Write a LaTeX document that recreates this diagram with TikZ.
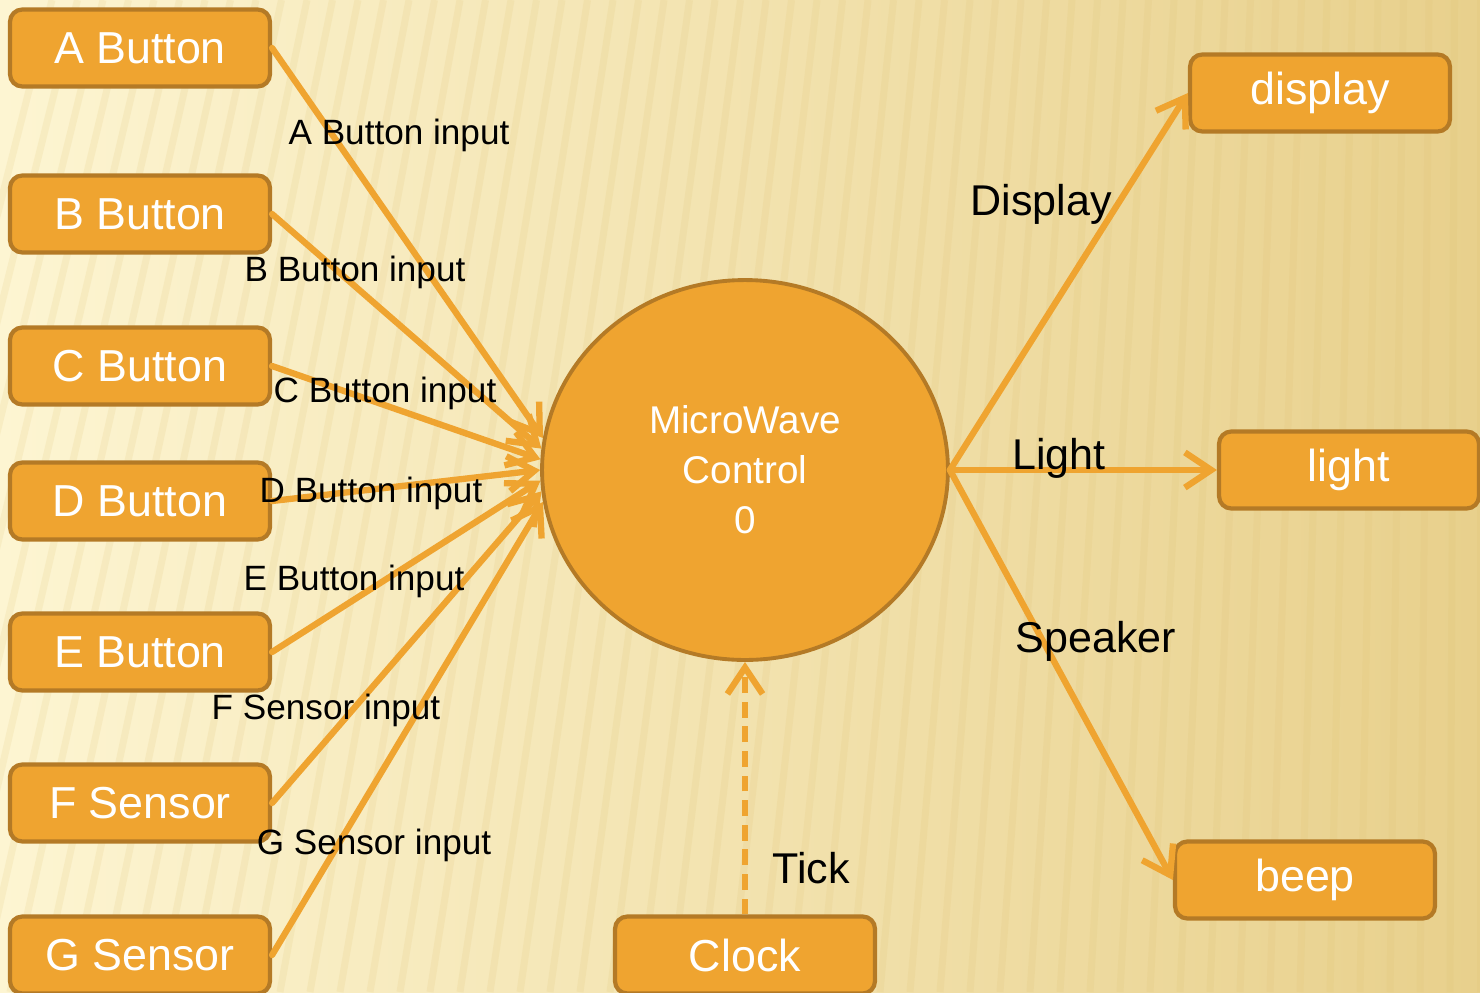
\documentclass[tikz,border=0pt]{standalone}
\usepackage{fontspec}
\setmainfont{Liberation Sans}
\usetikzlibrary{shapes.geometric,arrows.meta}

\definecolor{boxfill}{RGB}{239,164,48}
\definecolor{boxline}{RGB}{180,122,38}
\definecolor{bgA}{RGB}{253,245,210}
\definecolor{bgB}{RGB}{232,208,140}
\definecolor{stripecol}{RGB}{222,192,112}

\begin{document}
\begin{tikzpicture}[x=0.02cm,y=-0.02cm]
                \tikzset{BoxStyle/.style= {draw=boxline, line width=2.4pt, fill=boxfill, rounded corners=7pt,
                    minimum width=5.2cm, minimum height=1.54cm, inner sep=0pt, text=white,
                    font=\fontsize{25.5}{30}\selectfont}}
                \tikzset{CtrlStyle/.style= {ellipse, draw=boxline, line width=2.2pt, fill=boxfill,
                    minimum width=8.12cm, minimum height=7.6cm, inner sep=0pt, text=white, align=center,
                    font=\fontsize{22}{28.5}\selectfont}}
                \tikzset{EdgeStyle/.style= {draw=boxfill, line width=3.6pt, line cap=round,
                    -{Straight Barb[length=15pt,width=20pt]}}}
                \tikzset{LabelStyle/.style= {text=black, inner sep=0pt, font=\fontsize{20}{24}\selectfont}}
                \tikzset{BigLabelStyle/.style= {text=black, inner sep=0pt, font=\fontsize{24.5}{28}\selectfont}}
                % background
                \useasboundingbox (0,0) rectangle (1480,992);
                \shade[left color=bgA, right color=bgB] (0,0) rectangle (1480,992);
                \begin{scope}
                \clip (0,0) rectangle (1480,992);
                \foreach \sx in {-200,-170,...,1500}
                    \draw[stripecol, line width=4pt, opacity=0.15] (\sx,992) -- ({\sx+0.15*(1480-\sx)},0);
                \end{scope}
                % inputs
                \node[BoxStyle] (abtn) at (140,48) {A Button};
                \node[BoxStyle] (bbtn) at (140,214) {B Button};
                \node[BoxStyle] (cbtn) at (140,366) {C Button};
                \node[BoxStyle] (dbtn) at (140,501) {D Button};
                \node[BoxStyle] (ebtn) at (140,652) {E Button};
                \node[BoxStyle] (fsen) at (140,803) {F Sensor};
                \node[BoxStyle] (gsen) at (140,955) {G Sensor};
                % control
                \node[CtrlStyle] (ctrl) at (745,470) {MicroWave\\Control\\0};
                % outputs
                \node[BoxStyle] (disp) at (1320,93) {display};
                \node[BoxStyle] (lght) at (1349,470) {light};
                \node[BoxStyle] (beep) at (1305,880) {beep};
                \node[BoxStyle] (clck) at (745,955) {Clock};
                % edges
                \draw[EdgeStyle] (abtn.east) -- (ctrl.171);
                \draw[EdgeStyle] (bbtn.east) -- (ctrl.174);
                \draw[EdgeStyle] (cbtn.east) -- (ctrl.177);
                \draw[EdgeStyle] (dbtn.east) -- (ctrl.180);
                \draw[EdgeStyle] (ebtn.east) -- (ctrl.183);
                \draw[EdgeStyle] (fsen.east) -- (ctrl.186);
                \draw[EdgeStyle] (gsen.east) -- (ctrl.189);
                \draw[EdgeStyle] (ctrl.east) -- (disp.west);
                \draw[EdgeStyle] (ctrl.east) -- (lght.west);
                \draw[EdgeStyle] (ctrl.east) -- (beep.west);
                \draw[EdgeStyle, dash pattern=on 9pt off 5pt, line cap=butt] (clck.north) -- (ctrl.south);
                % labels
                \node[LabelStyle] (alab) at (399,135) {A Button input};
                \node[LabelStyle] (blab) at (355,272) {B Button input};
                \node[LabelStyle] (clab) at (385,393) {C Button input};
                \node[LabelStyle] (dlab) at (371,493) {D Button input};
                \node[LabelStyle] (elab) at (354,581) {E Button input};
                \node[LabelStyle] (flab) at (326,710) {F Sensor input};
                \node[LabelStyle] (glab) at (374,845) {G Sensor input};
                \node[BigLabelStyle] (displab) at (1041,204) {Display};
                \node[BigLabelStyle] (lghtlab) at (1059,458) {Light};
                \node[BigLabelStyle] (spklab) at (1096,641) {Speaker};
                \node[BigLabelStyle] (ticklab) at (811,868) {Tick};
            \end{tikzpicture}
\end{document}
